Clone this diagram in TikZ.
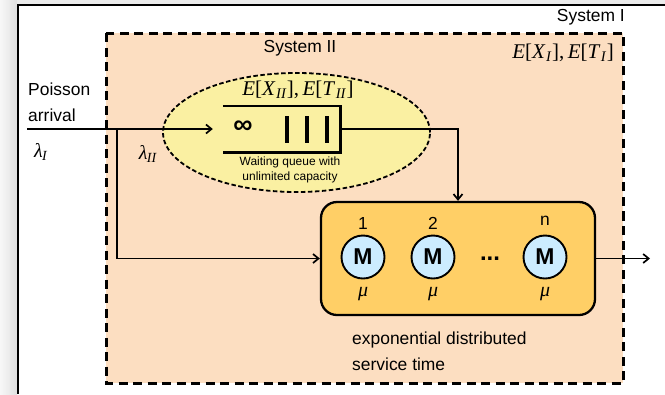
\documentclass[tikz,border=0pt]{standalone}
\usepackage{fontspec}
\setmainfont{Liberation Sans}
\newfontfamily\tms{Liberation Serif}
\usetikzlibrary{arrows.meta,shapes.geometric}

\definecolor{peach}{RGB}{252,222,193}
\definecolor{paleyellow}{RGB}{250,240,162}
\definecolor{servgold}{RGB}{255,207,102}
\definecolor{mblue}{RGB}{204,236,255}

% expectation pair E[X_s], E[T_s] in a Times-like italic
\newcommand{\exppair}[1]{{\tms\textit{E}[\textit{X}\kern0.5pt\textsubscript{\textit{#1}}],\,\textit{E}[\textit{T}\kern0.5pt\textsubscript{\textit{#1}}]}}
\newcommand{\greeksub}[2]{{\tms\textit{#1}\kern-0.5pt\textsubscript{\textit{#2}}}}

\tikzset{
  lbl/.style={inner sep=0pt, font=\fontsize{17.5}{20}\selectfont},
  smalllbl/.style={inner sep=0pt, font=\fontsize{12}{15}\selectfont, align=center},
  mathlbl/.style={inner sep=0pt, font=\fontsize{21}{23}\selectfont},
  greek/.style={inner sep=0pt, font=\fontsize{20}{22}\selectfont},
  flow/.style={line width=1.9bp, -{Straight Barb[length=5.5bp,width=9bp,line width=1.7bp]}},
  sysone/.style={draw, fill=peach, line width=3bp, dash pattern=on 9bp off 5.5bp},
  systwo/.style={ellipse, draw, fill=paleyellow, line width=1.8bp, dash pattern=on 4.5bp off 2.5bp,
                 minimum width=267bp, minimum height=119bp, inner sep=0pt},
  servbox/.style={draw, fill=servgold, line width=2.3bp, rounded corners=16bp,
                  minimum width=274bp, minimum height=113bp, inner sep=0pt},
  server/.style={circle, draw, fill=mblue, line width=1.9bp, minimum size=43bp, inner sep=0pt,
                 font=\fontsize{23}{24}\selectfont\bfseries},
  qline/.style={line width=2.6bp},
  qbar/.style={line width=3.6bp},
}

\begin{document}
\begin{tikzpicture}[x=1bp,y=-1bp]
  \useasboundingbox (0,0) rectangle (665,394);
  % window background and frame
  \fill[white] (0,0) rectangle (665,394);
  \shade[left color=black!3, right color=black!12] (0,0) rectangle (17,394);
  \fill[black!8] (17,0) rectangle (665,4);
  \draw[line width=2bp] (18,394) -- (18,5) -- (665,5);

  % System I
  \draw[sysone] (106,33) rectangle (623,383);
  \node[lbl, anchor=east] (sysI) at (625,17) {System I};
  \node[mathlbl, anchor=east] (eI) at (614,53) {\exppair{I}};

  % System II: the waiting queue
  \node[systwo] (sysII) at (296.5,132.5) {};
  \node[lbl] (sysIIlbl) at (300,48) {System II};
  \node[mathlbl] (eII) at (298,90) {\exppair{II}};
  \node[minimum width=117bp, minimum height=46bp, inner sep=0pt] (queue) at (281.5,129) {};
  \draw[qline] (queue.north west) -- (queue.north east) -- (queue.south east) -- (queue.south west);
  \node[inner sep=0pt, font=\fontsize{27}{27}\selectfont\bfseries] (inf) at (243,127) {∞};
  \foreach \bx in {287,307,327}
    \draw[qbar] (\bx,116) -- (\bx,143);
  \node[smalllbl] (qtext) at (290,170) {Waiting queue with\\unlimited capacity};

  % servers
  \node[servbox] (servers) at (458,258.5) {};
  \node[server] (m1) at (363,257) {M};
  \node[server] (m2) at (433,257) {M};
  \node[server] (mn) at (545,257) {M};
  \node[lbl] (n1) at (363,223) {1};
  \node[lbl] (n2) at (433,223) {2};
  \node[lbl] (nn) at (545,221) {n};
  \node[inner sep=0pt, anchor=base, font=\fontsize{24}{24}\selectfont\bfseries] (dots) at (490,260) {...};
  \node[greek] (mu1) at (363,294) {{\tms\textit{μ}}};
  \node[greek] (mu2) at (433,294) {{\tms\textit{μ}}};
  \node[greek] (mun) at (545,294) {{\tms\textit{μ}}};
  \node[lbl, anchor=west, align=left, font=\fontsize{17.5}{26}\selectfont] (svc) at (352,351)
    {exponential distributed\\service time};

  % arrivals
  \node[lbl, anchor=west, align=left, font=\fontsize{17.5}{26}\selectfont] (poisson) at (28,102)
    {Poisson\\arrival};
  \node[greek] (lamI) at (41,152) {\greeksub{λ}{I}};
  \node[greek] (lamII) at (148,154) {\greeksub{λ}{II}};

  % connectors
  \coordinate (src) at (27,129);
  \coordinate (junc) at (117,129);
  \coordinate (sink) at (650,258.5);
  \draw[flow] (src) -- ([xshift=-10bp]queue.west);
  \draw[flow] (queue.east) -| (servers.north);
  \draw[flow] (junc) |- (servers.west);
  \draw[flow] (servers.east) -- (sink);
\end{tikzpicture}
\end{document}
